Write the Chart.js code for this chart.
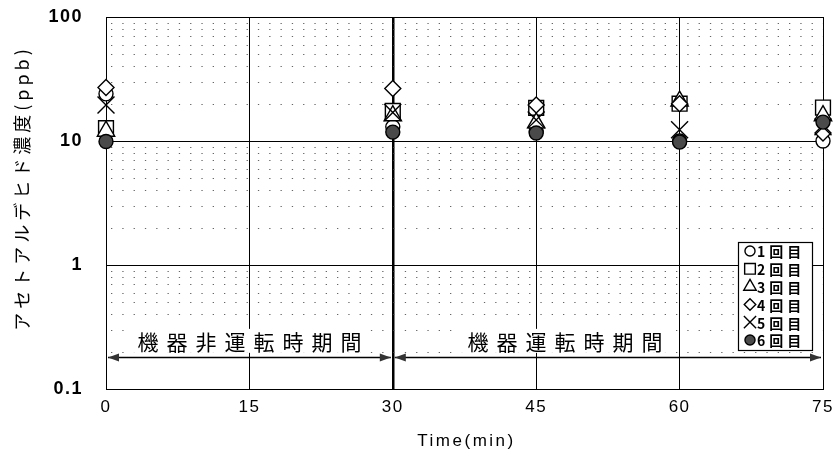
<!DOCTYPE html>
<html>
<head>
<meta charset="utf-8">
<script src="https://cdn.jsdelivr.net/npm/chart.js@4/dist/chart.umd.min.js"></script>
<style>
  html, body { margin: 0; padding: 0; background: #fff; }
  #wrap { width: 838px; height: 472px; }
</style>
</head>
<body>
<div id="wrap"><canvas id="chart" width="838" height="472"></canvas></div>
<script>
// 測定時刻 (min)
const sampleTimes = [0, 30, 45, 60, 75];
// アセトアルデヒド濃度 (ppb) 各回
const run1 = [24, 13, 12, 10, 10];
const run2 = [12.7, 17.5, 18.5, 20, 18.6];
const run3 = [12, 16, 14, 21, 16];
const run4 = [27, 26.5, 19.5, 20, 11.6];
const run5 = [19.5, 17, 14.8, 12.3, 13];
const run6 = [9.9, 11.8, 11.6, 9.8, 14.2];
const runLabels = ["1回目", "2回目", "3回目", "4回目", "5回目", "6回目"];

const xTicks = [0, 15, 30, 45, 60, 75];
const yTicks = [0.1, 1, 10, 100];
const minorSteps = [2, 3, 4, 5, 6, 7, 8, 9];

// 期間の注記
const periodLabels = ["機器非運転時期間", "機器運転時期間"];
const periodSpans = [[0, 30], [30, 75]];
const periodTextX = [15, 48];
const periodTextY = 0.24;
const periodArrowY = 0.181;

const styles = [
    { pointStyle: "circle", radius: 7, fill: "#fff" },
    { pointStyle: "rect", radius: 10.5, fill: "#fff" },
    { pointStyle: "triangle", radius: 10, fill: "#fff" },
    { pointStyle: "rectRot", radius: 8, fill: "#fff" },
    { pointStyle: "crossRot", radius: 12, fill: "#fff" },
    { pointStyle: "circle", radius: 7, fill: "#4a4a4a" }
];

const runs = [run1, run2, run3, run4, run5, run6];
const datasets = runs.map((vals, i) => ({
    label: runLabels[i],
    data: sampleTimes.map((t, j) => ({ x: t, y: vals[j] })),
    pointStyle: styles[i].pointStyle,
    pointRadius: styles[i].radius,
    pointHoverRadius: styles[i].radius,
    pointBackgroundColor: styles[i].fill,
    pointBorderColor: "#000",
    pointBorderWidth: 1.4,
    showLine: false,
    clip: false,
    order: runs.length - i
}));

function arrowHead(ctx, x, y, dir) {
    ctx.beginPath();
    ctx.moveTo(x, y);
    ctx.lineTo(x - dir * 11, y - 4);
    ctx.lineTo(x - dir * 11, y + 4);
    ctx.closePath();
    ctx.fill();
}

const decoPlugin = {
    id: "deco",
    beforeDraw(chart) {
        chart.ctx.letterSpacing = "1.5px";
    },
    beforeDatasetsDraw(chart) {
        const ctx = chart.ctx;
        const ca = chart.chartArea;
        const xs = chart.scales.x;
        const ys = chart.scales.y;
        ctx.save();
        // 補助目盛線 (点線)
        ctx.strokeStyle = "#666";
        ctx.lineWidth = 1;
        ctx.setLineDash([1.3, 10]);
        yTicks.slice(0, -1).forEach(d => {
            minorSteps.forEach(k => {
                const y = Math.round(ys.getPixelForValue(d * k)) + 0.5;
                ctx.beginPath();
                ctx.moveTo(ca.left + 5, y);
                ctx.lineTo(ca.right, y);
                ctx.stroke();
            });
        });
        ctx.setLineDash([]);

        // 期間ラベルと矢印
        ctx.font = "21px 'Noto Sans CJK JP'";
        ctx.letterSpacing = "8px";
        ctx.textAlign = "center";
        ctx.textBaseline = "middle";
        const ty = ys.getPixelForValue(periodTextY);
        const ay = Math.round(ys.getPixelForValue(periodArrowY)) + 0.5;
        periodLabels.forEach((txt, i) => {
            const cx = xs.getPixelForValue(periodTextX[i]) + 4;
            const w = ctx.measureText(txt).width;
            ctx.fillStyle = "#fff";
            ctx.fillRect(cx - w / 2 - 8, ty - 13, w + 8, 24);
            ctx.fillStyle = "#000";
            ctx.fillText(txt, cx, ty);
            const x0 = xs.getPixelForValue(periodSpans[i][0]) + 2;
            const x1 = xs.getPixelForValue(periodSpans[i][1]) - 2;
            ctx.strokeStyle = "#000";
            ctx.lineWidth = 1.5;
            ctx.beginPath();
            ctx.moveTo(x0, ay);
            ctx.lineTo(x1, ay);
            ctx.stroke();
            ctx.fillStyle = "#333";
            arrowHead(ctx, x0, ay, -1);
            arrowHead(ctx, x1, ay, 1);
        });
        ctx.restore();
    },
    afterDatasetsDraw(chart) {
        const ctx = chart.ctx;
        const ca = chart.chartArea;
        // 凡例
        const bw = 74, bh = 108;
        const bx = ca.right - 11 - bw;
        const by = ca.bottom - 39 - bh;
        ctx.save();
        ctx.fillStyle = "#fff";
        ctx.fillRect(bx, by, bw, bh);
        ctx.strokeStyle = "#000";
        ctx.lineWidth = 1.2;
        ctx.strokeRect(bx + 0.5, by + 0.5, bw, bh);
        ctx.font = "bold 14px 'Noto Sans CJK JP'";
        ctx.letterSpacing = "4px";
        ctx.textAlign = "left";
        ctx.textBaseline = "middle";
        runLabels.forEach((lab, i) => {
            const ry = by + 9 + i * 17.8;
            ctx.fillStyle = styles[i].fill;
            ctx.strokeStyle = "#000";
            ctx.lineWidth = 1.4;
            Chart.helpers.drawPoint(ctx, {
                pointStyle: styles[i].pointStyle,
                radius: styles[i].radius * 0.72,
                rotation: 0,
                borderWidth: 1.4
            }, bx + 12, ry);
            ctx.fillStyle = "#000";
            ctx.fillText(lab, bx + 19, ry + 1);
        });
        ctx.restore();
    },
    afterDraw(chart) {
        const ctx = chart.ctx;
        const ca = chart.chartArea;
        ctx.save();
        ctx.fillStyle = "#000";
        ctx.textAlign = "center";
        ctx.textBaseline = "middle";
        // 軸タイトル
        ctx.font = "17px 'Liberation Sans'";
        ctx.letterSpacing = "2.5px";
        ctx.fillText("Time(min)", (ca.left + ca.right) / 2 + 2, 441);
        ctx.translate(22, (ca.top + ca.bottom) / 2 - 15);
        ctx.rotate(-Math.PI / 2);
        ctx.font = "18px 'Noto Sans CJK JP'";
        ctx.letterSpacing = "4px";
        ctx.fillText("アセトアルデヒド濃度(ppb)", 0, 0);
        ctx.restore();
        ctx.letterSpacing = "0px";
    }
};

new Chart(document.getElementById("chart"), {
    type: "scatter",
    data: { datasets: datasets },
    plugins: [decoPlugin],
    options: {
        responsive: false,
        devicePixelRatio: 1,
        animation: false,
        layout: { padding: { top: 17, right: 15, left: 0, bottom: 0 } },
        plugins: {
            legend: { display: false },
            tooltip: { enabled: false }
        },
        scales: {
            x: {
                type: "linear",
                min: 0,
                max: 75,
                afterBuildTicks: s => { s.ticks = xTicks.map(v => ({ value: v })); },
                afterFit: s => { s.height = 83; s.paddingLeft = 0; s.paddingRight = 0; },
                grid: {
                    color: "#000",
                    lineWidth: c => (c.tick && c.tick.value === 30 ? 2.5 : 1),
                    drawTicks: false
                },
                border: { color: "#000", width: 1 },
                ticks: {
                    color: "#000",
                    padding: 8,
                    font: { family: "'Liberation Sans'", size: 17 }
                }
            },
            y: {
                type: "logarithmic",
                min: 0.1,
                max: 100,
                afterBuildTicks: s => { s.ticks = yTicks.map(v => ({ value: v })); },
                afterFit: s => { s.width = 106; s.paddingTop = 0; s.paddingBottom = 0; },
                grid: { color: "#000", lineWidth: 1, drawTicks: false },
                border: { color: "#000", width: 1 },
                ticks: {
                    color: "#000",
                    padding: 23,
                    font: { family: "'Liberation Sans'", size: 18, weight: "bold" },
                    callback: v => String(v)
                }
            }
        }
    }
});
</script>
</body>
</html>
